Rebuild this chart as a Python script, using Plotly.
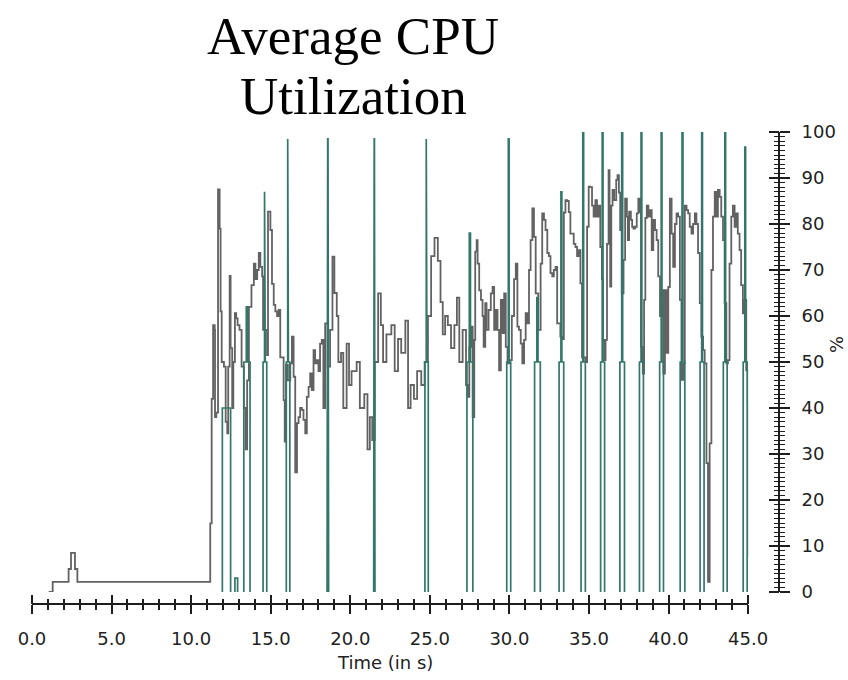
import plotly.graph_objects as go

# ---------------- data ----------------
# Average CPU utilisation (grey step line): time (s) and value (%)
cpu_time = [
    1.05, 1.3, 2.3, 2.45, 2.7, 2.85, 11.2, 11.29, 11.38, 11.48, 11.5, 11.58, 11.69, 11.79, 11.85, 11.92,
    12.06, 12.17, 12.27, 12.33, 12.42, 12.48, 12.58, 12.65, 12.75, 12.83, 12.92, 13.04, 13.17, 13.31, 13.42, 13.52,
    13.63, 13.79, 13.94, 14.04, 14.15, 14.25, 14.35, 14.46, 14.52, 14.77, 14.83, 14.98, 15.08, 15.19, 15.29, 15.40,
    15.50, 15.60, 15.71, 15.81, 15.88, 15.96, 16.08, 16.23, 16.33, 16.44, 16.54, 16.65, 16.75, 16.85, 16.96, 17.06,
    17.17, 17.27, 17.38, 17.48, 17.58, 17.69, 17.79, 17.90, 18.0, 18.1, 18.21, 18.31, 18.42, 18.58, 18.73,
    18.88, 19.0, 19.15, 19.25, 19.42, 19.56, 19.77, 19.92, 20.08, 20.4, 20.6, 20.88, 21.08, 21.23, 21.38, 21.54,
    21.75, 21.92, 22.06, 22.27, 22.58, 22.79, 23.0, 23.2, 23.46, 23.63, 23.79, 24.0, 24.2, 24.46, 24.67, 24.88,
    25.08, 25.29, 25.5, 25.67, 25.81, 25.96, 26.13, 26.33, 26.54, 26.7, 26.85, 27.06, 27.27,
    27.38, 27.48, 27.58, 27.69, 27.79, 27.85, 27.94, 28.0, 28.1, 28.21, 28.31, 28.38, 28.48, 28.56, 28.69, 28.83,
    28.94, 29.04, 29.15, 29.25, 29.35, 29.46, 29.56, 29.67, 29.77, 29.88, 29.98, 30.15, 30.29, 30.4, 30.5, 30.6,
    30.71, 30.81, 30.92, 31.02, 31.13, 31.23, 31.33, 31.44, 31.54, 31.65, 31.81, 31.96, 32.06, 32.17, 32.27, 32.38,
    32.48, 32.58, 32.69, 32.79, 32.9, 33.0, 33.1, 33.2, 33.31, 33.42, 33.52, 33.63, 33.73, 33.83, 33.94, 34.04,
    34.15, 34.25, 34.35, 34.46, 34.56, 34.77, 34.88, 34.98, 35.08, 35.19, 35.29, 35.4, 35.5, 35.6, 35.71, 35.81,
    35.88, 35.96, 36.04, 36.13, 36.23, 36.29, 36.33, 36.4, 36.48, 36.58, 36.71, 36.79, 36.88, 36.96, 37.06, 37.17,
    37.27, 37.38, 37.44, 37.52, 37.63, 37.71, 37.79, 37.9, 38.0, 38.1, 38.21, 38.27, 38.38, 38.46, 38.54, 38.63,
    38.73, 38.83, 38.94, 39.04, 39.15, 39.25, 39.35, 39.46, 39.56, 39.67, 39.77, 39.88, 39.98, 40.08, 40.19, 40.29,
    40.4, 40.5, 40.6, 40.71, 40.81, 40.92, 41.02, 41.13, 41.23, 41.33, 41.44, 41.54, 41.65, 41.75, 41.85, 41.96,
    42.06, 42.17, 42.27, 42.38, 42.48, 42.58, 42.69, 42.79, 42.9, 43.0, 43.1, 43.21, 43.31, 43.42, 43.52, 43.63,
    43.73, 43.83, 43.94, 44.04, 44.15, 44.25, 44.35, 44.46, 44.56, 44.67, 44.77, 44.88, 44.98, 45.0,
]
cpu_value = [
    0, 2.2, 5, 8.5, 5, 2.2, 14.9, 42, 58, 57, 38, 39, 87.5, 79, 61, 50,
    49, 37, 34.5, 49, 68.7, 53, 40, 50, 60.6, 59.5, 58, 57, 49, 40, 31, 46,
    62, 66.7, 71.4, 68, 70, 73.7, 70.7, 68.6, 57, 51.5, 82.7, 78.7, 67, 62.4, 61, 60,
    61.3, 51, 51, 41.7, 32.7, 49.4, 46, 49.7, 55.5, 46.8, 26, 36.7, 38, 40, 39.6, 37.4,
    34.5, 42.4, 44.6, 47.5, 43.9, 52.6, 49.7, 50.4, 48, 54, 54.8, 40, 58.4, 49, 57,
    72.9, 65, 60, 50, 52, 40, 54, 45, 48, 50, 40, 43, 31, 38, 33, 50,
    64.9, 58, 50, 56, 58, 48, 55, 52, 59, 40, 45, 42, 48, 45, 50, 60,
    73, 77, 72, 63, 56, 60, 58, 53, 58, 64, 50, 57, 45,
    42.4, 53.3, 57.7, 38, 54.8, 74, 76.5, 71.4, 65.6, 63.5, 60, 53.3, 62.8, 57, 61.3, 64.9,
    66.3, 57, 61.3, 57, 48.2, 63.5, 56.3, 64.9, 53.3, 49.7, 50.4, 60, 68, 71.4, 57.7, 57,
    54, 49.7, 54.8, 60.6, 58.4, 70, 76.5, 83.4, 77.2, 64.9, 57, 71.4, 82.3, 80.9, 78.7, 73.7,
    73, 69.3, 68.6, 70, 70.7, 58.4, 58.4, 55.5, 55, 82.5, 85.2, 85, 82.6, 77.9, 77.9, 75.7,
    75, 73, 74.3, 67.1, 51, 50, 79.4, 88.1, 88, 84, 81.6, 85.2, 81.6, 84, 75, 68,
    54.8, 50.4, 54.8, 75.7, 91.7, 77.9, 66.4, 84, 87.4, 85.2, 89.6, 90.6, 86.8, 78.7, 64.9, 72.2,
    85.5, 81.6, 76.5, 82.7, 80.9, 79.4, 79, 79.4, 82.3, 85.5, 82.6, 53.3, 47.5, 63.5, 81.3, 84,
    81.6, 83, 74.3, 80.9, 78.7, 76.5, 68.6, 60, 65.6, 47.5, 65.6, 52, 66.3, 85.5, 77.9, 70.7,
    80, 82.3, 81.6, 63.5, 46.1, 49.7, 84, 83, 82.3, 79.4, 77.9, 80, 82.3, 80, 73.7, 62.8,
    55.5, 52.6, 49.7, 28, 2.2, 32.3, 70, 81.6, 87, 81.6, 87.4, 85.9, 81.6, 76.5, 62.8, 49.7,
    50.4, 71.4, 81.6, 84, 79.4, 82.3, 77.9, 74.3, 66.7, 60.6, 63.5, 48.2, 41, 7.6,
]

# Short utilisation bursts (green): start, end (s) and peak value (%)
burst_start = [11.96, 12.75, 13.31, 14.52, 15.98, 18.54, 21.47, 24.69, 27.33, 29.83, 31.58,
               33.12, 34.50, 35.73, 36.94, 38.17, 39.44, 40.73, 41.98, 43.44, 44.69]
burst_end = [12.48, 12.92, 13.70, 14.75, 16.20, 18.64, 21.55, 24.90, 27.70, 30.08, 31.94,
             33.41, 34.77, 35.98, 37.23, 38.42, 39.68, 41.02, 42.23, 43.68, 44.94]
burst_peak = [40, 3, 62, 87, 98.5, 98.5, 98.5, 98.5, 78, 98.5, 64,
              87, 100, 100, 100, 100, 100, 100, 100, 100, 96.7]
burst_shoulder = 50

x_ticks = [0, 5, 10, 15, 20, 25, 30, 35, 40, 45]
x_tick_labels = ["0.0", "5.0", "10.0", "15.0", "20.0", "25.0", "30.0", "35.0", "40.0", "45.0"]
y_ticks = [0, 10, 20, 30, 40, 50, 60, 70, 80, 90, 100]

title_lines = ["Average CPU", "Utilization"]
x_title = "Time (in s)"
y_title = "%"

# ---------------- build burst paths ----------------
gx, gy = [], []
for s, e, p in zip(burst_start, burst_end, burst_peak):
    sh = min(burst_shoulder, p)
    w = e - s
    a, b = s + 0.4 * w, s + 0.6 * w
    gx += [s, s, a, a, b, b, e, e, None]
    gy += [0, sh, sh, p, p, sh, sh, 0, None]

AX = "#1e1e1e"
TICKFONT = dict(family="DejaVu Sans", size=18, color="#222222")

fig = go.Figure()
fig.add_trace(go.Scatter(x=cpu_time, y=cpu_value, mode="lines",
                         line=dict(color="#626262", width=1.8, shape="hv"),
                         hoverinfo="skip", showlegend=False))
fig.add_trace(go.Scatter(x=gx, y=gy, mode="lines", connectgaps=False,
                         line=dict(color="#33776a", width=1.7),
                         hoverinfo="skip", showlegend=False))
# helper trace so the mirror axes (ticks on the other side of each axis line) get drawn
fig.add_trace(go.Scatter(x=[None], y=[None], xaxis="x2", yaxis="y2",
                         mode="lines", hoverinfo="skip", showlegend=False))

xdom = [0, 0.9587]
ydom = [0.0254, 1]

fig.update_layout(
    width=848, height=680,
    margin=dict(l=32, r=65, t=132, b=76),
    paper_bgcolor="white", plot_bgcolor="white",
    showlegend=False,
    xaxis=dict(domain=xdom, range=[0, 45], anchor="free", position=0,
               showline=True, linecolor=AX, linewidth=1.5,
               ticks="outside", ticklen=9, tickwidth=1.5, tickcolor=AX,
               tickvals=x_ticks, ticktext=x_tick_labels, tickfont=TICKFONT,
               ticklabelstandoff=10,
               minor=dict(ticks="outside", ticklen=5, dtick=1, tickwidth=1.5, tickcolor=AX),
               showgrid=False, zeroline=False, fixedrange=True),
    xaxis2=dict(overlaying="x", range=[0, 45], anchor="free", position=0, side="top",
                showline=False, ticks="outside", ticklen=9, tickwidth=1.5, tickcolor=AX,
                tickvals=x_ticks, showticklabels=False,
                minor=dict(ticks="outside", ticklen=5, dtick=1, tickwidth=1.5, tickcolor=AX),
                showgrid=False, zeroline=False, fixedrange=True),
    yaxis=dict(domain=ydom, range=[0, 100], side="right", anchor="free", position=1,
               showline=True, linecolor=AX, linewidth=2,
               ticks="outside", ticklen=10, tickwidth=1.5, tickcolor=AX,
               tickvals=y_ticks, tickfont=TICKFONT, ticklabelstandoff=8,
               minor=dict(ticks="outside", ticklen=5, dtick=1, tickwidth=1.2, tickcolor=AX),
               showgrid=False, zeroline=False, fixedrange=True),
    yaxis2=dict(overlaying="y", range=[0, 100], side="left", anchor="free", position=1,
                showline=False, ticks="outside", ticklen=10, tickwidth=1.5, tickcolor=AX,
                tickvals=y_ticks, showticklabels=False,
                minor=dict(ticks="outside", ticklen=5, dtick=1, tickwidth=1.2, tickcolor=AX),
                showgrid=False, zeroline=False, fixedrange=True),
)

title_font = dict(family="Liberation Serif", size=53, color="black")
fig.add_annotation(text=title_lines[0], xref="paper", yref="paper", x=0.4301, y=1,
                   xanchor="center", yanchor="middle", yshift=96, showarrow=False, font=title_font)
fig.add_annotation(text=title_lines[1], xref="paper", yref="paper", x=0.4301, y=1,
                   xanchor="center", yanchor="middle", yshift=36, showarrow=False, font=title_font)
fig.add_annotation(text=x_title, xref="paper", yref="paper", x=0.4727, y=0,
                   xanchor="center", yanchor="middle", yshift=-58, showarrow=False,
                   font=dict(family="DejaVu Sans", size=18, color="#222222"))
fig.add_annotation(text=y_title, xref="paper", yref="paper", x=1, y=0.5487,
                   xanchor="center", yanchor="middle", xshift=57, textangle=-90, showarrow=False,
                   font=dict(family="DejaVu Sans", size=18, color="#222222"))

fig.write_html("out.html")
